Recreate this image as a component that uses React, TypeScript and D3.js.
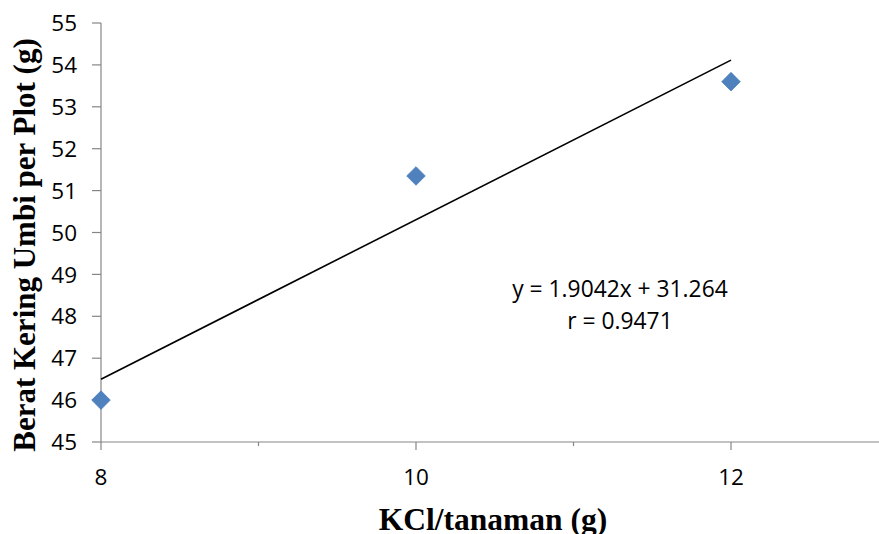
import React from "react";
import * as d3 from "d3";

const xValues = [8, 10, 12];
const yValues = [46.0, 51.35, 53.6];
const slope = 1.9042;
const intercept = 31.264;
const equationText = "y = 1.9042x + 31.264";
const rText = "r = 0.9471";
const yTicks = [45, 46, 47, 48, 49, 50, 51, 52, 53, 54, 55];
const xMajorTicks = [8, 10, 12];
const xMinorTicks = [9, 11, 13];

export default function App() {
  const W = 879;
  const H = 534;
  const x = d3.scaleLinear().domain([8, 13]).range([101, 888.5]);
  const y = d3.scaleLinear().domain([45, 55]).range([442, 23]);
  const axisColor = "#868686";
  const sans = "'Open Sans', 'Liberation Sans', sans-serif";
  const serif = "'Liberation Serif', 'Times New Roman', serif";
  const diamond = d3.symbol().type(d3.symbolDiamond2).size(220)();
  const trend = d3.line<number>().x((d) => x(d)).y((d) => y(slope * d + intercept));

  return (
    <svg width={W} height={H} style={{ position: "absolute", left: 0, top: 0, background: "#fff" }}>
      {/* y axis */}
      <line x1={x(8)} x2={x(8)} y1={y(55)} y2={y(45)} stroke={axisColor} strokeWidth={1.2} />
      {yTicks.map((t) => (
        <g key={t}>
          <line x1={92} x2={x(8)} y1={y(t)} y2={y(t)} stroke={axisColor} strokeWidth={1.2} />
          <text x={77} y={y(t)} dy="0.36em" textAnchor="end" fontFamily={sans} fontSize={22.5} fill="#000">
            {t}
          </text>
        </g>
      ))}
      {/* x axis */}
      <line x1={x(8)} x2={W} y1={y(45)} y2={y(45)} stroke={axisColor} strokeWidth={1.2} />
      {xMajorTicks.map((t) => (
        <g key={t}>
          <line x1={x(t)} x2={x(t)} y1={y(45)} y2={y(45) + 8} stroke={axisColor} strokeWidth={1.2} />
          <text x={x(t)} y={485} textAnchor="middle" fontFamily={sans} fontSize={22.5} fill="#000">
            {t}
          </text>
        </g>
      ))}
      {xMinorTicks.map((t) => (
        <line key={t} x1={x(t)} x2={x(t)} y1={y(45)} y2={y(45) + 4} stroke={axisColor} strokeWidth={1.2} />
      ))}
      {/* trendline */}
      <path d={trend([8, 12]) || ""} fill="none" stroke="#000" strokeWidth={1.6} />
      {/* points */}
      {xValues.map((v, i) => (
        <path key={v} d={diamond || ""} transform={`translate(${x(v)},${y(yValues[i])})`} fill="#4F81BD" stroke="#4A7EBB" strokeWidth={0.8} />
      ))}
      {/* equation */}
      <text x={620} y={297} textAnchor="middle" fontFamily={sans} fontSize={22.8} fill="#000">
        {equationText}
      </text>
      <text x={620} y={329} textAnchor="middle" fontFamily={sans} fontSize={22.8} fill="#000">
        {rText}
      </text>
      {/* axis titles */}
      <text x={493} y={530} textAnchor="middle" fontFamily={serif} fontWeight="bold" fontSize={31.5} fill="#000">
        KCl/tanaman (g)
      </text>
      <text
        transform={`translate(35,245) rotate(-90)`}
        textAnchor="middle"
        fontFamily={serif}
        fontWeight="bold"
        fontSize={31}
        fill="#000"
      >
        Berat Kering Umbi per Plot (g)
      </text>
    </svg>
  );
}
